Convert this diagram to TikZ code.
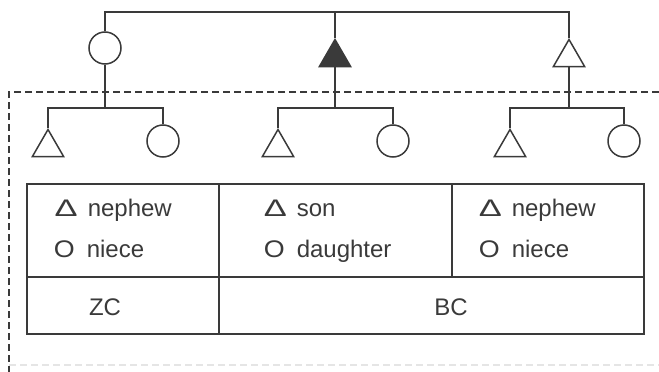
\documentclass[tikz,border=0pt]{standalone}
\usepackage{fontspec}
\setmainfont{Liberation Sans}
\usetikzlibrary{shapes.geometric}
\definecolor{ink}{HTML}{3A3A3A}
% 符号 + 称谓
\newcommand{\kinrow}[2]{\makebox[33pt][l]{#1}#2}
\newcommand{\tsym}{\resizebox{23pt}{16.5pt}{Δ}}
\newcommand{\csym}{\scalebox{1.12}[1]{O}}
\tikzset{
  male/.style={draw=ink, line width=1.5pt, regular polygon, regular polygon sides=3,
    minimum size=36pt, inner sep=0pt, anchor=corner 1},
  female/.style={draw=ink, line width=1.5pt, circle, minimum size=32pt, inner sep=0pt},
  lbl/.style={anchor=base west, inner sep=0pt, text=ink,
    font=\fontsize{24}{28}\selectfont},
  grouplbl/.style={anchor=base, inner sep=0pt, text=ink,
    font=\fontsize{24}{28}\selectfont},
}
\begin{document}
\begin{tikzpicture}[x=1pt, y=-1pt, line width=1.5pt, draw=ink]
  \useasboundingbox (0,0) rectangle (659,372);

  % 父辈
  \node[female] (p1) at (105,48) {};
  \node[male, fill=ink] (p2) at (335,38) {};
  \node[male] (p3) at (569,38) {};
  \coordinate (tl) at (105,12);
  \coordinate (tm) at (335,12);
  \coordinate (tr) at (569,12);
  \draw[ink] (p1.north) -- (tl) -- (tr) -- (p3.corner 1);
  \draw[ink] (tm) -- (p2.corner 1);

  % 子辈
  \node[male] (c1) at (48,128) {};
  \node[female] (c2) at (163,141) {};
  \node[male] (c3) at (278,128) {};
  \node[female] (c4) at (393,141) {};
  \node[male] (c5) at (510,128) {};
  \node[female] (c6) at (624,141) {};
  \coordinate (b1) at (105,108);
  \coordinate (b2) at (335,108);
  \coordinate (b3) at (569,108);
  \draw[ink] (p1.south) -- (b1);
  \draw[ink] (p2.side 2) -- (b2);
  \draw[ink] (p3.side 2) -- (b3);
  \draw[ink] (c1.corner 1) |- (b1) -| (c2.north);
  \draw[ink] (c3.corner 1) |- (b2) -| (c4.north);
  \draw[ink] (c5.corner 1) |- (b3) -| (c6.north);

  % 虚线框
  \draw[ink, dash pattern=on 7pt off 4pt] (659,92) -- (9,92) -- (9,372);
  \draw[black!10, dash pattern=on 7pt off 4pt] (9,365) -- (659,365);

  % 表格
  \draw[ink, line width=1.3pt] (27,184) rectangle (644,334);
  \draw[ink, line width=1.3pt] (27,277) -- (644,277);
  \draw[ink, line width=1.3pt] (219,184) -- (219,334);
  \draw[ink, line width=1.3pt] (452,184) -- (452,277);

  \node[lbl] (n1) at (54,216) {\kinrow{\tsym}{nephew}};
  \node[lbl] (m1) at (53,257) {\kinrow{\csym}{niece}};
  \node[lbl] (s2) at (263,216) {\kinrow{\tsym}{son}};
  \node[lbl] (d2) at (263,257) {\kinrow{\csym}{daughter}};
  \node[lbl] (n3) at (478,216) {\kinrow{\tsym}{nephew}};
  \node[lbl] (m3) at (478,257) {\kinrow{\csym}{niece}};
  \node[grouplbl] (zc) at (105,315) {ZC};
  \node[grouplbl] (bc) at (451,315) {BC};
\end{tikzpicture}
\end{document}
